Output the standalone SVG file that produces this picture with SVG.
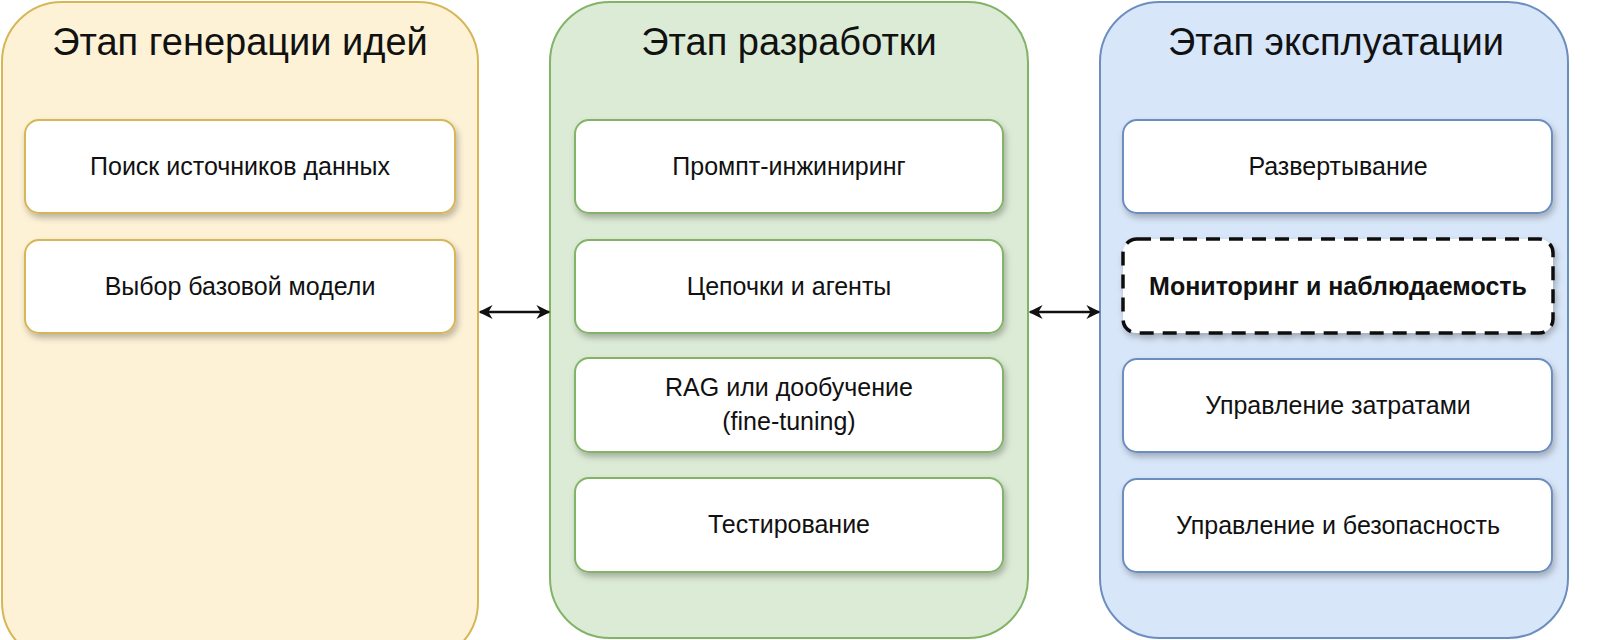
<svg xmlns="http://www.w3.org/2000/svg" width="1621" height="640" viewBox="0 0 1621 640">
<style>
text{font-family:"Liberation Sans",Arial,sans-serif;fill:#111;text-anchor:middle}
.t{font-size:38px}
.b{font-size:25px}
.box{fill:#fff;stroke-width:2}
.y{stroke:#d6b656}.g{stroke:#82b366}.bl{stroke:#6c8ebf}
.c{stroke:#111;stroke-width:2.5;fill:none;marker-start:url(#a);marker-end:url(#a)}
</style>
<defs>
<filter id="s" x="-10%" y="-10%" width="120%" height="140%"><feDropShadow dx="2" dy="4" stdDeviation="3" flood-opacity="0.25"/></filter>
<marker id="a" viewBox="0 0 10 10" refX="9" refY="5" markerWidth="16" markerHeight="14" orient="auto-start-reverse" markerUnits="userSpaceOnUse"><path d="M0,0 L10,5 L0,10 L3,5 z" fill="#111"/></marker>
</defs>
<g id="stage1">
<rect x="2" y="2" width="476" height="660" rx="60" fill="#fdf1d6" stroke="#d6b656" stroke-width="2"/>
<text class="t" x="240" y="55">Этап генерации идей</text>
</g>
<g id="stage2">
<rect x="550" y="2" width="478" height="636" rx="60" fill="#dcebd6" stroke="#82b366" stroke-width="2"/>
<text class="t" x="789" y="55">Этап разработки</text>
</g>
<g id="stage3">
<rect x="1100" y="2" width="468" height="636" rx="60" fill="#d8e6f9" stroke="#6c8ebf" stroke-width="2"/>
<text class="t" x="1336" y="55">Этап эксплуатации</text>
</g>
<g id="n1"><rect class="box y" filter="url(#s)" x="25" y="120" width="430" height="93" rx="14"/><text class="b" x="240" y="175">Поиск источников данных</text></g>
<g id="n2"><rect class="box y" filter="url(#s)" x="25" y="240" width="430" height="93" rx="14"/><text class="b" x="240" y="295">Выбор базовой модели</text></g>
<g id="n3"><rect class="box g" filter="url(#s)" x="575" y="120" width="428" height="93" rx="14"/><text class="b" x="789" y="175">Промпт-инжиниринг</text></g>
<g id="n4"><rect class="box g" filter="url(#s)" x="575" y="240" width="428" height="93" rx="14"/><text class="b" x="789" y="295">Цепочки и агенты</text></g>
<g id="n5"><rect class="box g" filter="url(#s)" x="575" y="358" width="428" height="94" rx="14"/><text class="b" x="789" y="396">RAG или дообучение</text><text class="b" x="789" y="430">(fine-tuning)</text></g>
<g id="n6"><rect class="box g" filter="url(#s)" x="575" y="478" width="428" height="94" rx="14"/><text class="b" x="789" y="533">Тестирование</text></g>
<g id="n7"><rect class="box bl" filter="url(#s)" x="1123" y="120" width="429" height="93" rx="14"/><text class="b" x="1338" y="175">Развертывание</text></g>
<g id="n8"><rect x="1123" y="239" width="430" height="94" rx="14" fill="#fff" stroke="#111" stroke-width="3.5" stroke-dasharray="14,9" filter="url(#s)"/><text class="b" x="1338" y="295" font-weight="bold">Мониторинг и наблюдаемость</text></g>
<g id="n9"><rect class="box bl" filter="url(#s)" x="1123" y="359" width="429" height="93" rx="14"/><text class="b" x="1338" y="414">Управление затратами</text></g>
<g id="n10"><rect class="box bl" filter="url(#s)" x="1123" y="479" width="429" height="93" rx="14"/><text class="b" x="1338" y="534">Управление и безопасность</text></g>
<g id="connectors">
<line class="c" x1="480" y1="312" x2="549" y2="312"/>
<line class="c" x1="1030" y1="312" x2="1099" y2="312"/>
</g>
</svg>
